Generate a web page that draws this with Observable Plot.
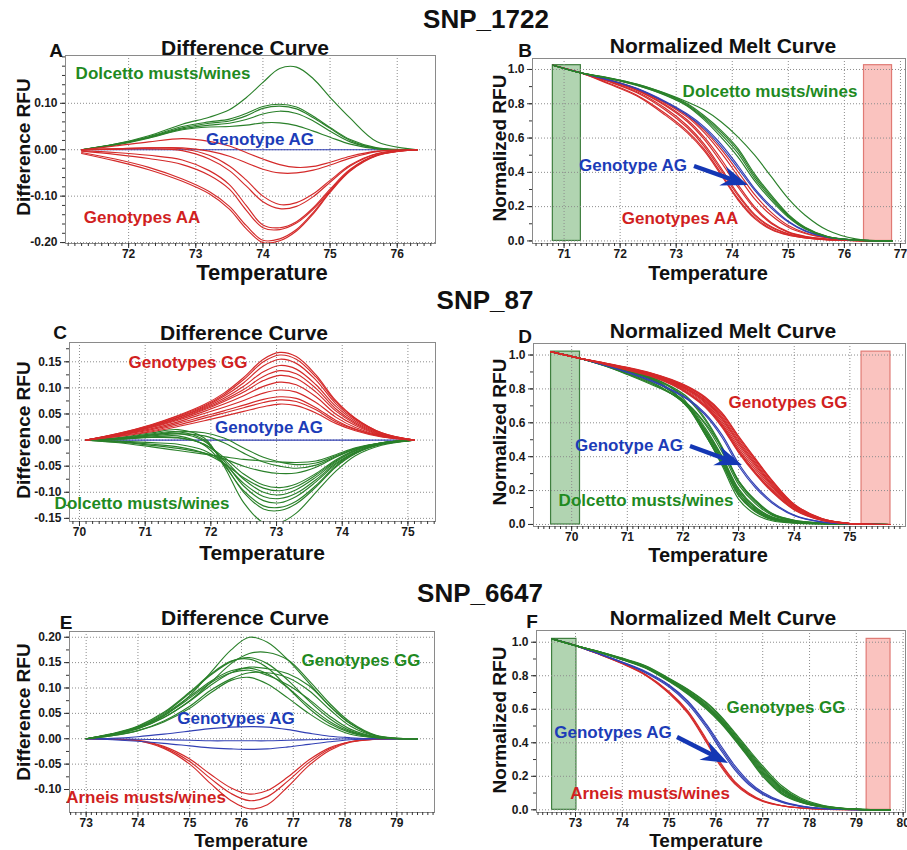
<!DOCTYPE html>
<html><head><meta charset="utf-8">
<script src="https://cdn.jsdelivr.net/npm/d3@7"></script>
<script src="https://cdn.jsdelivr.net/npm/@observablehq/plot@0.6"></script>
<style>
body{margin:0;background:#fff}
#page{position:relative;width:907px;height:850px;overflow:hidden;background:#fff}
.lbl{position:absolute;transform:translate(-50%,-50%);white-space:nowrap;font-family:Arial,"Liberation Sans",Helvetica,sans-serif;font-weight:bold;line-height:1}
.rot{transform:translate(-50%,-50%) rotate(-90deg)}
.panel{position:absolute}
#ov{position:absolute;left:0;top:0;pointer-events:none}
</style></head>
<body><div id="page"></div>
<script>
// ---------------- DATA ----------------
// SNP_1722 – Difference curve (A)
const tempA = [71.3, 71.8, 72.3, 72.8, 73.2, 73.5, 73.75, 74.0, 74.25, 74.5, 74.75, 75.0, 75.3, 75.7, 76.3];
const greenA = [
  [0, 0.012, 0.03, 0.055, 0.07, 0.086, 0.112, 0.145, 0.175, 0.178, 0.153, 0.113, 0.068, 0.017, 0],
  [0, 0.012, 0.028, 0.05, 0.06, 0.066, 0.078, 0.093, 0.098, 0.092, 0.072, 0.048, 0.022, 0.004, 0],
  [0, 0.011, 0.027, 0.047, 0.057, 0.062, 0.073, 0.089, 0.094, 0.088, 0.069, 0.046, 0.02, 0.003, 0],
  [0, 0.011, 0.026, 0.045, 0.053, 0.057, 0.065, 0.077, 0.083, 0.078, 0.062, 0.04, 0.017, 0.003, 0],
  [0, 0.010, 0.025, 0.043, 0.049, 0.05, 0.053, 0.058, 0.058, 0.052, 0.04, 0.027, 0.012, 0.002, 0]
];
const blueA = [
  [0, 0, 0, 0, 0, 0, 0, 0, 0, 0, 0, 0, 0, 0, 0]
];
const redA = [
  [0, 0.008, 0.017, 0.024, 0.018, 0.008, -0.006, -0.02, -0.032, -0.038, -0.036, -0.027, -0.014, -0.003, 0],
  [0, 0.002, 0.004, 0.004, -0.003, -0.014, -0.028, -0.042, -0.05, -0.05, -0.044, -0.033, -0.018, -0.004, 0],
  [0, 0.002, 0.004, 0.002, -0.012, -0.035, -0.065, -0.1, -0.118, -0.114, -0.095, -0.066, -0.033, -0.008, 0],
  [0, 0.001, 0.002, -0.002, -0.02, -0.045, -0.078, -0.112, -0.127, -0.122, -0.101, -0.07, -0.035, -0.009, 0],
  [-0.002, -0.006, -0.012, -0.022, -0.045, -0.075, -0.12, -0.162, -0.168, -0.155, -0.125, -0.085, -0.042, -0.011, 0],
  [-0.003, -0.01, -0.019, -0.032, -0.055, -0.085, -0.13, -0.168, -0.172, -0.158, -0.128, -0.088, -0.044, -0.012, 0],
  [-0.006, -0.02, -0.038, -0.063, -0.09, -0.122, -0.163, -0.195, -0.192, -0.172, -0.135, -0.09, -0.045, -0.012, 0],
  [-0.008, -0.024, -0.043, -0.068, -0.095, -0.128, -0.17, -0.2, -0.196, -0.175, -0.138, -0.092, -0.046, -0.013, 0]
];
const xTicksA = [72, 73, 74, 75, 76];
const yTicksA = [-0.2, -0.1, 0, 0.1];

// SNP_1722 – Normalized melt curve (B)
const tempB = [70.8, 71.3, 71.8, 72.3, 72.8, 73.2, 73.5, 73.8, 74.1, 74.4, 74.7, 75.0, 75.3, 75.7, 76.2, 76.85];
const greenB = [
  [1.025, 0.98, 0.952, 0.915, 0.862, 0.81, 0.763, 0.695, 0.607, 0.5, 0.373, 0.247, 0.15, 0.062, 0.012, 0],
  [1.025, 0.98, 0.95, 0.913, 0.86, 0.8, 0.73, 0.645, 0.54, 0.39, 0.265, 0.155, 0.08, 0.026, 0.005, 0],
  [1.025, 0.98, 0.949, 0.911, 0.857, 0.795, 0.722, 0.635, 0.528, 0.378, 0.256, 0.15, 0.077, 0.025, 0.005, 0],
  [1.025, 0.98, 0.948, 0.909, 0.853, 0.79, 0.715, 0.622, 0.512, 0.365, 0.247, 0.145, 0.074, 0.024, 0.005, 0],
  [1.025, 0.98, 0.947, 0.907, 0.85, 0.786, 0.706, 0.605, 0.49, 0.35, 0.235, 0.138, 0.07, 0.023, 0.005, 0]
];
const blueB = [
  [1.025, 0.98, 0.94, 0.89, 0.815, 0.74, 0.665, 0.565, 0.44, 0.305, 0.2, 0.115, 0.06, 0.022, 0.005, 0],
  [1.025, 0.98, 0.938, 0.887, 0.81, 0.733, 0.655, 0.55, 0.425, 0.295, 0.19, 0.11, 0.057, 0.02, 0.005, 0]
];
const redB = [
  [1.025, 0.98, 0.94, 0.888, 0.81, 0.73, 0.645, 0.535, 0.405, 0.27, 0.165, 0.09, 0.048, 0.019, 0.004, 0],
  [1.025, 0.98, 0.938, 0.884, 0.805, 0.722, 0.632, 0.515, 0.38, 0.245, 0.148, 0.08, 0.043, 0.017, 0.004, 0],
  [1.025, 0.98, 0.936, 0.88, 0.796, 0.705, 0.605, 0.478, 0.33, 0.198, 0.106, 0.053, 0.027, 0.011, 0.003, 0],
  [1.025, 0.98, 0.935, 0.878, 0.79, 0.695, 0.592, 0.46, 0.315, 0.188, 0.1, 0.05, 0.025, 0.01, 0.003, 0],
  [1.025, 0.98, 0.931, 0.87, 0.775, 0.672, 0.565, 0.425, 0.275, 0.155, 0.082, 0.042, 0.021, 0.008, 0.002, 0],
  [1.025, 0.98, 0.928, 0.864, 0.765, 0.66, 0.552, 0.412, 0.265, 0.149, 0.078, 0.04, 0.02, 0.008, 0.002, 0],
  [1.025, 0.98, 0.92, 0.85, 0.745, 0.64, 0.535, 0.395, 0.248, 0.137, 0.07, 0.036, 0.018, 0.007, 0.002, 0],
  [1.025, 0.98, 0.915, 0.845, 0.735, 0.63, 0.525, 0.385, 0.24, 0.13, 0.065, 0.033, 0.017, 0.006, 0.002, 0]
];
const preMeltB = [70.8, 71.3];
const postMeltB = [76.35, 76.85];
const xTicksB = [71, 72, 73, 74, 75, 76, 77];
const yTicksMelt = [0, 0.2, 0.4, 0.6, 0.8, 1.0];

// SNP_87 – Difference curve (C)
const tempC = [70.1, 70.6, 71.1, 71.5, 71.9, 72.2, 72.5, 72.8, 73.05, 73.3, 73.6, 73.9, 74.2, 74.6, 75.1];
const redC = [
  [0, 0.013, 0.03, 0.047, 0.068, 0.09, 0.12, 0.155, 0.168, 0.16, 0.125, 0.076, 0.042, 0.014, 0],
  [0, 0.013, 0.029, 0.046, 0.066, 0.087, 0.116, 0.15, 0.163, 0.155, 0.121, 0.074, 0.041, 0.014, 0],
  [0, 0.012, 0.028, 0.044, 0.064, 0.084, 0.11, 0.142, 0.155, 0.147, 0.115, 0.07, 0.039, 0.013, 0],
  [0, 0.012, 0.027, 0.043, 0.062, 0.08, 0.103, 0.131, 0.143, 0.136, 0.106, 0.065, 0.036, 0.012, 0],
  [0, 0.011, 0.026, 0.041, 0.06, 0.077, 0.097, 0.122, 0.133, 0.127, 0.099, 0.06, 0.033, 0.011, 0],
  [0, 0.011, 0.025, 0.04, 0.058, 0.074, 0.092, 0.114, 0.124, 0.118, 0.092, 0.056, 0.031, 0.01, 0],
  [0, 0.01, 0.024, 0.038, 0.055, 0.069, 0.085, 0.103, 0.111, 0.106, 0.083, 0.05, 0.028, 0.009, 0],
  [0, 0.01, 0.022, 0.035, 0.051, 0.063, 0.076, 0.09, 0.096, 0.092, 0.072, 0.044, 0.024, 0.008, 0],
  [0, 0.009, 0.02, 0.032, 0.046, 0.056, 0.067, 0.078, 0.083, 0.08, 0.062, 0.038, 0.021, 0.007, 0],
  [0, 0.008, 0.018, 0.029, 0.042, 0.052, 0.062, 0.072, 0.077, 0.074, 0.058, 0.035, 0.02, 0.007, 0],
  [0, 0.007, 0.016, 0.026, 0.037, 0.046, 0.055, 0.064, 0.069, 0.066, 0.052, 0.032, 0.018, 0.006, 0]
];
const blueC = [
  [0, 0, 0, 0, 0, 0, 0, 0, 0, 0, 0, 0, 0, 0, 0]
];
const greenC = [
  [0, 0.005, 0.014, 0.02, 0.004, -0.05, -0.12, -0.158, -0.158, -0.14, -0.1, -0.06, -0.03, -0.01, 0],
  [0, 0.004, 0.012, 0.016, 0.0, -0.045, -0.1, -0.132, -0.135, -0.122, -0.09, -0.052, -0.026, -0.008, 0],
  [0, 0.002, 0.006, 0.008, -0.01, -0.048, -0.097, -0.126, -0.129, -0.117, -0.087, -0.05, -0.025, -0.008, 0],
  [0, 0.003, 0.01, 0.013, -0.002, -0.04, -0.088, -0.116, -0.12, -0.108, -0.08, -0.047, -0.024, -0.007, 0],
  [0, -0.002, -0.005, -0.008, -0.02, -0.045, -0.083, -0.108, -0.112, -0.102, -0.076, -0.045, -0.023, -0.007, 0],
  [0, 0.002, 0.006, 0.005, -0.008, -0.037, -0.075, -0.1, -0.105, -0.095, -0.071, -0.042, -0.021, -0.006, 0],
  [0, -0.003, -0.008, -0.013, -0.025, -0.045, -0.072, -0.092, -0.097, -0.089, -0.067, -0.04, -0.02, -0.006, 0],
  [0, 0.002, 0.005, 0.004, -0.008, -0.033, -0.065, -0.086, -0.091, -0.084, -0.064, -0.038, -0.019, -0.006, 0],
  [0, -0.004, -0.01, -0.016, -0.025, -0.036, -0.05, -0.06, -0.064, -0.063, -0.052, -0.033, -0.017, -0.005, 0],
  [0, 0.002, 0.008, 0.012, 0.008, -0.005, -0.025, -0.042, -0.05, -0.054, -0.048, -0.032, -0.017, -0.005, 0],
  [0, 0.003, 0.01, 0.016, 0.014, 0.004, -0.015, -0.033, -0.042, -0.047, -0.044, -0.03, -0.016, -0.005, 0],
  [0, -0.005, -0.013, -0.02, -0.027, -0.032, -0.037, -0.04, -0.042, -0.043, -0.04, -0.028, -0.015, -0.005, 0]
];
const xTicksC = [70, 71, 72, 73, 74, 75];
const yTicksC = [-0.15, -0.1, -0.05, 0, 0.05, 0.1, 0.15];

// SNP_87 – Normalized melt curve (D)
const tempD = [69.62, 70.15, 70.6, 71.0, 71.4, 71.8, 72.1, 72.4, 72.7, 73.0, 73.3, 73.6, 74.0, 74.5, 75.0, 75.73];
const greenD = [
  [1.02, 0.98, 0.945, 0.912, 0.874, 0.805, 0.705, 0.535, 0.35, 0.15, 0.06, 0.022, 0.008, 0.003, 0.002, 0],
  [1.02, 0.98, 0.944, 0.911, 0.869, 0.79, 0.69, 0.53, 0.36, 0.17, 0.075, 0.028, 0.01, 0.004, 0.002, 0],
  [1.02, 0.98, 0.942, 0.905, 0.862, 0.782, 0.685, 0.53, 0.365, 0.175, 0.08, 0.03, 0.011, 0.004, 0.002, 0],
  [1.02, 0.98, 0.943, 0.909, 0.866, 0.788, 0.695, 0.542, 0.375, 0.185, 0.085, 0.033, 0.012, 0.004, 0.002, 0],
  [1.02, 0.98, 0.938, 0.895, 0.847, 0.772, 0.69, 0.545, 0.38, 0.19, 0.09, 0.036, 0.013, 0.005, 0.002, 0],
  [1.02, 0.98, 0.942, 0.905, 0.86, 0.783, 0.697, 0.555, 0.39, 0.2, 0.097, 0.04, 0.015, 0.005, 0.002, 0],
  [1.02, 0.98, 0.937, 0.891, 0.842, 0.77, 0.693, 0.56, 0.4, 0.205, 0.1, 0.043, 0.016, 0.006, 0.002, 0],
  [1.02, 0.98, 0.942, 0.904, 0.859, 0.783, 0.704, 0.57, 0.405, 0.212, 0.105, 0.045, 0.017, 0.006, 0.002, 0],
  [1.02, 0.98, 0.936, 0.888, 0.836, 0.77, 0.705, 0.59, 0.43, 0.235, 0.123, 0.055, 0.02, 0.007, 0.002, 0],
  [1.02, 0.98, 0.942, 0.906, 0.866, 0.805, 0.735, 0.615, 0.45, 0.25, 0.133, 0.06, 0.022, 0.008, 0.002, 0],
  [1.02, 0.98, 0.943, 0.91, 0.87, 0.812, 0.746, 0.625, 0.46, 0.258, 0.14, 0.063, 0.024, 0.008, 0.002, 0],
  [1.02, 0.98, 0.935, 0.885, 0.83, 0.77, 0.707, 0.598, 0.45, 0.258, 0.145, 0.066, 0.025, 0.009, 0.002, 0]
];
const blueD = [
  [1.02, 0.98, 0.94, 0.9, 0.855, 0.795, 0.74, 0.655, 0.53, 0.36, 0.23, 0.135, 0.055, 0.015, 0.004, 0],
  [1.02, 0.98, 0.938, 0.897, 0.85, 0.79, 0.733, 0.645, 0.515, 0.345, 0.218, 0.127, 0.051, 0.014, 0.004, 0]
];
const redD = [
  [1.02, 0.98, 0.953, 0.927, 0.897, 0.855, 0.812, 0.752, 0.66, 0.522, 0.39, 0.262, 0.12, 0.035, 0.006, 0],
  [1.02, 0.98, 0.952, 0.926, 0.895, 0.852, 0.809, 0.748, 0.655, 0.516, 0.384, 0.258, 0.118, 0.034, 0.006, 0],
  [1.02, 0.98, 0.951, 0.924, 0.893, 0.849, 0.805, 0.743, 0.647, 0.507, 0.377, 0.252, 0.115, 0.033, 0.006, 0],
  [1.02, 0.98, 0.95, 0.922, 0.891, 0.846, 0.8, 0.736, 0.637, 0.495, 0.366, 0.244, 0.111, 0.032, 0.006, 0],
  [1.02, 0.98, 0.95, 0.921, 0.889, 0.843, 0.796, 0.73, 0.628, 0.485, 0.357, 0.237, 0.108, 0.031, 0.006, 0],
  [1.02, 0.98, 0.949, 0.92, 0.887, 0.84, 0.792, 0.724, 0.62, 0.476, 0.349, 0.23, 0.105, 0.03, 0.006, 0],
  [1.02, 0.98, 0.949, 0.918, 0.885, 0.837, 0.787, 0.717, 0.608, 0.463, 0.337, 0.222, 0.1, 0.029, 0.005, 0],
  [1.02, 0.98, 0.948, 0.917, 0.883, 0.833, 0.781, 0.709, 0.597, 0.449, 0.323, 0.212, 0.095, 0.027, 0.005, 0],
  [1.02, 0.98, 0.947, 0.915, 0.881, 0.83, 0.775, 0.702, 0.588, 0.437, 0.31, 0.203, 0.091, 0.026, 0.005, 0],
  [1.02, 0.98, 0.946, 0.913, 0.879, 0.827, 0.772, 0.697, 0.582, 0.431, 0.305, 0.198, 0.089, 0.025, 0.005, 0],
  [1.02, 0.98, 0.945, 0.911, 0.876, 0.824, 0.767, 0.691, 0.575, 0.424, 0.298, 0.192, 0.086, 0.024, 0.005, 0]
];
const preMeltD = [69.63, 70.15];
const postMeltD = [75.21, 75.73];
const xTicksD = [70, 71, 72, 73, 74, 75];

// SNP_6647 – Difference curve (E)
const tempE = [73.0, 73.5, 74.0, 74.5, 75.0, 75.4, 75.8, 76.15, 76.5, 76.9, 77.3, 77.7, 78.1, 78.6, 79.4];
const greenE = [
  [0, 0.008, 0.022, 0.045, 0.085, 0.13, 0.175, 0.2, 0.19, 0.155, 0.11, 0.065, 0.03, 0.006, 0],
  [0, 0.008, 0.02, 0.042, 0.075, 0.11, 0.148, 0.168, 0.17, 0.155, 0.115, 0.07, 0.033, 0.007, 0],
  [0, 0.009, 0.024, 0.05, 0.09, 0.125, 0.152, 0.16, 0.148, 0.115, 0.075, 0.04, 0.016, 0.003, 0],
  [0, 0.01, 0.025, 0.052, 0.092, 0.127, 0.153, 0.157, 0.14, 0.1, 0.06, 0.03, 0.012, 0.002, 0],
  [0, 0.008, 0.02, 0.042, 0.074, 0.105, 0.13, 0.141, 0.138, 0.128, 0.105, 0.065, 0.03, 0.006, 0],
  [0, 0.009, 0.023, 0.048, 0.083, 0.113, 0.134, 0.139, 0.128, 0.1, 0.065, 0.034, 0.014, 0.003, 0],
  [0, 0.009, 0.022, 0.046, 0.08, 0.11, 0.13, 0.135, 0.125, 0.106, 0.078, 0.045, 0.019, 0.004, 0],
  [0, 0.006, 0.016, 0.033, 0.06, 0.09, 0.115, 0.121, 0.108, 0.08, 0.05, 0.025, 0.009, 0.002, 0],
  [0, 0.006, 0.016, 0.035, 0.064, 0.095, 0.118, 0.13, 0.13, 0.12, 0.095, 0.058, 0.025, 0.005, 0]
];
const blueE = [
  [0, 0.001, 0.004, 0.009, 0.015, 0.02, 0.023, 0.024, 0.023, 0.018, 0.011, 0.005, 0.002, 0, 0],
  [0, 0, -0.001, -0.002, -0.003, -0.004, -0.004, -0.004, -0.004, -0.003, -0.002, -0.001, 0, 0, 0],
  [0, -0.002, -0.005, -0.009, -0.014, -0.018, -0.02, -0.021, -0.02, -0.016, -0.011, -0.006, -0.002, 0, 0]
];
const redE = [
  [0, -0.001, -0.003, -0.015, -0.04, -0.07, -0.097, -0.109, -0.102, -0.075, -0.042, -0.018, -0.006, -0.001, 0],
  [0, -0.001, -0.004, -0.017, -0.045, -0.078, -0.108, -0.122, -0.114, -0.083, -0.047, -0.02, -0.006, -0.001, 0],
  [0, -0.001, -0.004, -0.019, -0.05, -0.088, -0.122, -0.138, -0.13, -0.094, -0.053, -0.023, -0.007, -0.001, 0]
];
const xTicksE = [73, 74, 75, 76, 77, 78, 79];
const yTicksE = [-0.1, -0.05, 0, 0.05, 0.1, 0.15, 0.2];

// SNP_6647 – Normalized melt curve (F)
const tempF = [72.5, 73.0, 73.5, 74.0, 74.5, 75.0, 75.4, 75.8, 76.1, 76.4, 76.7, 77.0, 77.4, 77.8, 78.3, 79.0, 79.73];
const greenF = [
  [1.02, 0.98, 0.945, 0.905, 0.86, 0.785, 0.72, 0.64, 0.56, 0.462, 0.36, 0.262, 0.145, 0.072, 0.026, 0.004, 0],
  [1.02, 0.98, 0.944, 0.903, 0.857, 0.782, 0.716, 0.635, 0.556, 0.455, 0.352, 0.252, 0.135, 0.065, 0.023, 0.004, 0],
  [1.02, 0.98, 0.944, 0.902, 0.855, 0.779, 0.711, 0.628, 0.548, 0.447, 0.345, 0.245, 0.13, 0.062, 0.022, 0.004, 0],
  [1.02, 0.98, 0.943, 0.9, 0.853, 0.776, 0.707, 0.622, 0.542, 0.44, 0.338, 0.237, 0.124, 0.058, 0.02, 0.003, 0],
  [1.02, 0.98, 0.942, 0.899, 0.851, 0.774, 0.704, 0.618, 0.538, 0.436, 0.332, 0.23, 0.118, 0.055, 0.019, 0.003, 0],
  [1.02, 0.98, 0.942, 0.898, 0.85, 0.772, 0.7, 0.613, 0.532, 0.43, 0.326, 0.222, 0.112, 0.052, 0.018, 0.003, 0],
  [1.02, 0.98, 0.941, 0.897, 0.848, 0.77, 0.697, 0.608, 0.528, 0.426, 0.32, 0.214, 0.105, 0.049, 0.017, 0.003, 0],
  [1.02, 0.98, 0.941, 0.896, 0.847, 0.768, 0.694, 0.604, 0.523, 0.422, 0.315, 0.207, 0.1, 0.047, 0.016, 0.003, 0],
  [1.02, 0.98, 0.94, 0.895, 0.845, 0.765, 0.69, 0.6, 0.518, 0.418, 0.31, 0.2, 0.095, 0.045, 0.015, 0.003, 0]
];
const blueF = [
  [1.02, 0.98, 0.933, 0.882, 0.825, 0.745, 0.65, 0.51, 0.385, 0.265, 0.17, 0.105, 0.052, 0.024, 0.008, 0.001, 0],
  [1.02, 0.98, 0.932, 0.88, 0.821, 0.74, 0.642, 0.5, 0.372, 0.252, 0.16, 0.098, 0.048, 0.022, 0.007, 0.001, 0],
  [1.02, 0.98, 0.93, 0.878, 0.817, 0.733, 0.632, 0.488, 0.358, 0.24, 0.151, 0.092, 0.045, 0.02, 0.007, 0.001, 0]
];
const redF = [
  [1.02, 0.98, 0.93, 0.875, 0.808, 0.705, 0.59, 0.42, 0.28, 0.17, 0.1, 0.056, 0.026, 0.012, 0.004, 0.001, 0],
  [1.02, 0.98, 0.929, 0.873, 0.805, 0.7, 0.583, 0.41, 0.27, 0.163, 0.095, 0.053, 0.025, 0.011, 0.004, 0.001, 0],
  [1.02, 0.98, 0.928, 0.871, 0.802, 0.694, 0.575, 0.4, 0.26, 0.155, 0.09, 0.05, 0.024, 0.011, 0.004, 0.001, 0]
];
const preMeltF = [72.5, 73.02];
const postMeltF = [79.22, 79.73];
const xTicksF = [73, 74, 75, 76, 77, 78, 79, 80];
const regionTop = [1.025, 1.02, 1.02];

// ---------------- STYLE / LAYOUT ----------------
const COL = {green: "#2a802a", blue: "#3240b4", red: "#d42a2a"};
const TXT = {green: "#1f8a1f", blue: "#1c3cb8", red: "#d11f1f", black: "#111"};
const page = document.getElementById("page");

function toRows(temps, curves, group) {
  const rows = [];
  curves.forEach((c, i) => c.forEach((v, j) => rows.push({t: temps[j], v, id: group + i})));
  return rows;
}

function drawPanel(p) {
  const [fx0, fx1, fy0, fy1] = p.frame;
  const top = fy0 - 12;
  const height = (fy1 - top) + 22;
  const fmt = d => d.toFixed(p.digits);
  const minorX = d3.range(Math.ceil(p.xDomain[0] / p.xMinor) * p.xMinor, p.xDomain[1], p.xMinor);
  const minorY = d3.range(Math.ceil(p.yDomain[0] / p.yMinor) * p.yMinor, p.yDomain[1], p.yMinor);
  const marks = [];
  if (p.regions) {
    const regs = [
      {x1: p.regions.pre[0], x2: p.regions.pre[1], top: p.regions.top, fill: "#a9cfa9", stroke: "#3f7f3f"},
      {x1: p.regions.post[0], x2: p.regions.post[1], top: p.regions.top, fill: "#f9bcb8", stroke: "#e07a74"}
    ];
    marks.push(Plot.rect(regs, {x1: "x1", x2: "x2", y1: () => 0, y2: "top", fill: d => d.fill, stroke: d => d.stroke, strokeWidth: 1.2, fillOpacity: 0.9}));
  }
  marks.push(Plot.gridX(p.xTicks, {stroke: "#8c8c8c", strokeOpacity: 1, strokeDasharray: "1,2", strokeWidth: 1}));
  marks.push(Plot.gridY(p.yTicks, {stroke: "#8c8c8c", strokeOpacity: 1, strokeDasharray: "1,2", strokeWidth: 1}));
  for (const g of p.order) {
    marks.push(Plot.line(toRows(p.temps, p.groups[g], g), {x: "t", y: "v", z: "id", stroke: COL[g], strokeWidth: 1.15, curve: "catmull-rom", clip: true}));
  }
  marks.push(Plot.frame({stroke: "#8a8a8a", strokeWidth: 1}));
  marks.push(Plot.axisX(minorX, {anchor: "bottom", tickSize: 3, text: null, stroke: "#333", label: null}));
  marks.push(Plot.axisX(p.xTicks, {anchor: "bottom", tickSize: 5, tickPadding: 1, tickFormat: d => String(d), stroke: "#333", label: null}));
  marks.push(Plot.axisY(minorY, {anchor: "left", tickSize: 3, text: null, stroke: "#333", label: null}));
  marks.push(Plot.axisY(p.yTicks, {anchor: "left", tickSize: 5, tickPadding: 3, tickFormat: fmt, stroke: "#333", label: null}));
  const svg = Plot.plot({
    width: p.width, height,
    marginLeft: fx0 - p.left, marginRight: p.left + p.width - fx1,
    marginTop: fy0 - top, marginBottom: height - (fy1 - top),
    x: {domain: p.xDomain, label: null},
    y: {domain: p.yDomain, label: null},
    style: {fontFamily: "'Liberation Sans Narrow','Arial Narrow',Arial,'Liberation Sans',sans-serif", fontSize: "12px", fontWeight: "bold", color: "#1a1a1a", background: "transparent", overflow: "visible"},
    marks
  });
  svg.classList.add("panel");
  svg.style.left = p.left + "px";
  svg.style.top = top + "px";
  svg.style.position = "absolute";
  page.appendChild(svg);
}

const panels = [
  {left: 0, width: 445, frame: [65, 435, 55, 243], xDomain: [71.06, 76.57], yDomain: [-0.202, 0.203], xTicks: xTicksA, yTicks: yTicksA, digits: 2, xMinor: 0.1, yMinor: 0.02,
   temps: tempA, groups: {green: greenA, blue: blueA, red: redA}, order: ["blue", "green", "red"]},
  {left: 450, width: 457, frame: [532, 905, 58, 243], xDomain: [70.437, 77.09], yDomain: [-0.015, 1.064], xTicks: xTicksB, yTicks: yTicksMelt, digits: 1, xMinor: 0.1, yMinor: 0.1,
   temps: tempB, groups: {green: greenB, blue: blueB, red: redB}, order: ["red", "blue", "green"], regions: {pre: preMeltB, post: postMeltB, top: regionTop[0]}},
  {left: 0, width: 445, frame: [69, 435, 342, 521], xDomain: [69.848, 75.42], yDomain: [-0.156, 0.187], xTicks: xTicksC, yTicks: yTicksC, digits: 2, xMinor: 0.1, yMinor: 0.025,
   temps: tempC, groups: {green: greenC, blue: blueC, red: redC}, order: ["blue", "green", "red"]},
  {left: 450, width: 457, frame: [533, 905, 343, 526], xDomain: [69.314, 76.0], yDomain: [-0.012, 1.068], xTicks: xTicksD, yTicks: yTicksMelt, digits: 1, xMinor: 0.1, yMinor: 0.1,
   temps: tempD, groups: {green: greenD, blue: blueD, red: redD}, order: ["green", "blue", "red"], regions: {pre: preMeltD, post: postMeltD, top: regionTop[1]}},
  {left: 0, width: 445, frame: [69, 434, 631, 812], xDomain: [72.678, 79.728], yDomain: [-0.1453, 0.2113], xTicks: xTicksE, yTicks: yTicksE, digits: 2, xMinor: 0.1, yMinor: 0.025,
   temps: tempE, groups: {green: greenE, blue: blueE, red: redE}, order: ["red", "blue", "green"]},
  {left: 450, width: 457, frame: [536, 905, 630, 812], xDomain: [72.167, 80.05], yDomain: [-0.016, 1.07], xTicks: xTicksF, yTicks: yTicksMelt, digits: 1, xMinor: 0.1, yMinor: 0.1,
   temps: tempF, groups: {green: greenF, blue: blueF, red: redF}, order: ["red", "blue", "green"], regions: {pre: preMeltF, post: postMeltF, top: regionTop[2]}}
];
panels.forEach(drawPanel);

// text overlays: [text, x, y, size, color, rotated]
const texts = [
  ["SNP_1722", 486, 19, 26, "black"], ["SNP_87", 485, 300, 26, "black"], ["SNP_6647", 480, 593, 26, "black"],
  ["A", 56, 50, 19, "black"], ["Difference Curve", 245, 47, 21, "black"], ["Difference RFU", 23, 147, 19, "black", true], ["Temperature", 262, 273, 22, "black"],
  ["Dolcetto musts/wines", 163, 73, 17, "green"], ["Genotype AG", 260, 139, 17, "blue"], ["Genotypes AA", 142, 217, 17, "red"],
  ["B", 525, 50, 19, "black"], ["Normalized Melt Curve", 723, 45, 21, "black"], ["Normalized RFU", 499, 148, 19, "black", true], ["Temperature", 708, 273, 20, "black"],
  ["Dolcetto musts/wines", 770, 91, 17, "green"], ["Genotype AG", 633, 165, 17, "blue"], ["Genotypes AA", 680, 218, 17, "red"],
  ["C", 60, 332, 19, "black"], ["Difference Curve", 244, 332, 21, "black"], ["Difference RFU", 23, 430, 19, "black", true], ["Temperature", 262, 552, 21, "black"],
  ["Genotypes GG", 188, 362, 17, "red"], ["Genotype AG", 269, 427, 17, "blue"], ["Dolcetto musts/wines", 142, 503, 17, "green"],
  ["D", 525, 336, 19, "black"], ["Normalized Melt Curve", 723, 330, 21, "black"], ["Normalized RFU", 499, 432, 19, "black", true], ["Temperature", 708, 555, 20, "black"],
  ["Genotypes GG", 788, 402, 17, "red"], ["Genotype AG", 629, 445, 17, "blue"], ["Dolcetto musts/wines", 646, 500, 17, "green"],
  ["E", 66, 622, 19, "black"], ["Difference Curve", 245, 617, 21, "black"], ["Difference RFU", 23, 712, 19, "black", true], ["Temperature", 251, 840, 19, "black"],
  ["Genotypes GG", 361, 660, 17, "green"], ["Genotypes AG", 236, 718, 17, "blue"], ["Arneis musts/wines", 146, 797, 17, "red"],
  ["F", 532, 621, 19, "black"], ["Normalized Melt Curve", 723, 617, 21, "black"], ["Normalized RFU", 499, 720, 19, "black", true], ["Temperature", 706, 840, 19, "black"],
  ["Genotypes GG", 786, 707, 17, "green"], ["Genotypes AG", 613, 732, 17, "blue"], ["Arneis musts/wines", 650, 793, 17, "red"]
];
for (const [s, x, y, size, c, rot] of texts) {
  const d = document.createElement("div");
  d.className = "lbl" + (rot ? " rot" : "");
  d.textContent = s;
  d.style.left = x + "px"; d.style.top = y + "px";
  d.style.fontSize = size + "px"; d.style.color = TXT[c];
  page.appendChild(d);
}

// annotation arrows (pixel positions)
const NS = "http://www.w3.org/2000/svg";
const ov = document.createElementNS(NS, "svg");
ov.setAttribute("id", "ov"); ov.setAttribute("width", 907); ov.setAttribute("height", 850);
page.appendChild(ov);
function arrow(x1, y1, x2, y2) {
  const dx = x2 - x1, dy = y2 - y1, L = Math.hypot(dx, dy), ux = dx / L, uy = dy / L, nx = -uy, ny = ux;
  const hl = 27, hw = 10, notch = 9;
  const bx = x2 - ux * hl, by = y2 - uy * hl;
  const nxp = bx + ux * notch, nyp = by + uy * notch;
  const line = document.createElementNS(NS, "line");
  line.setAttribute("x1", x1); line.setAttribute("y1", y1); line.setAttribute("x2", nxp); line.setAttribute("y2", nyp);
  line.setAttribute("stroke", "#1437b4"); line.setAttribute("stroke-width", 4.5);
  ov.appendChild(line);
  const poly = document.createElementNS(NS, "polygon");
  poly.setAttribute("points", [[x2, y2], [bx + nx * hw, by + ny * hw], [nxp, nyp], [bx - nx * hw, by - ny * hw]].map(p => p.join(",")).join(" "));
  poly.setAttribute("fill", "#1437b4");
  ov.appendChild(poly);
}
arrow(694, 166, 748, 185);
arrow(690, 446, 742, 465);
arrow(677, 737, 728, 763);
</script>
</body></html>
